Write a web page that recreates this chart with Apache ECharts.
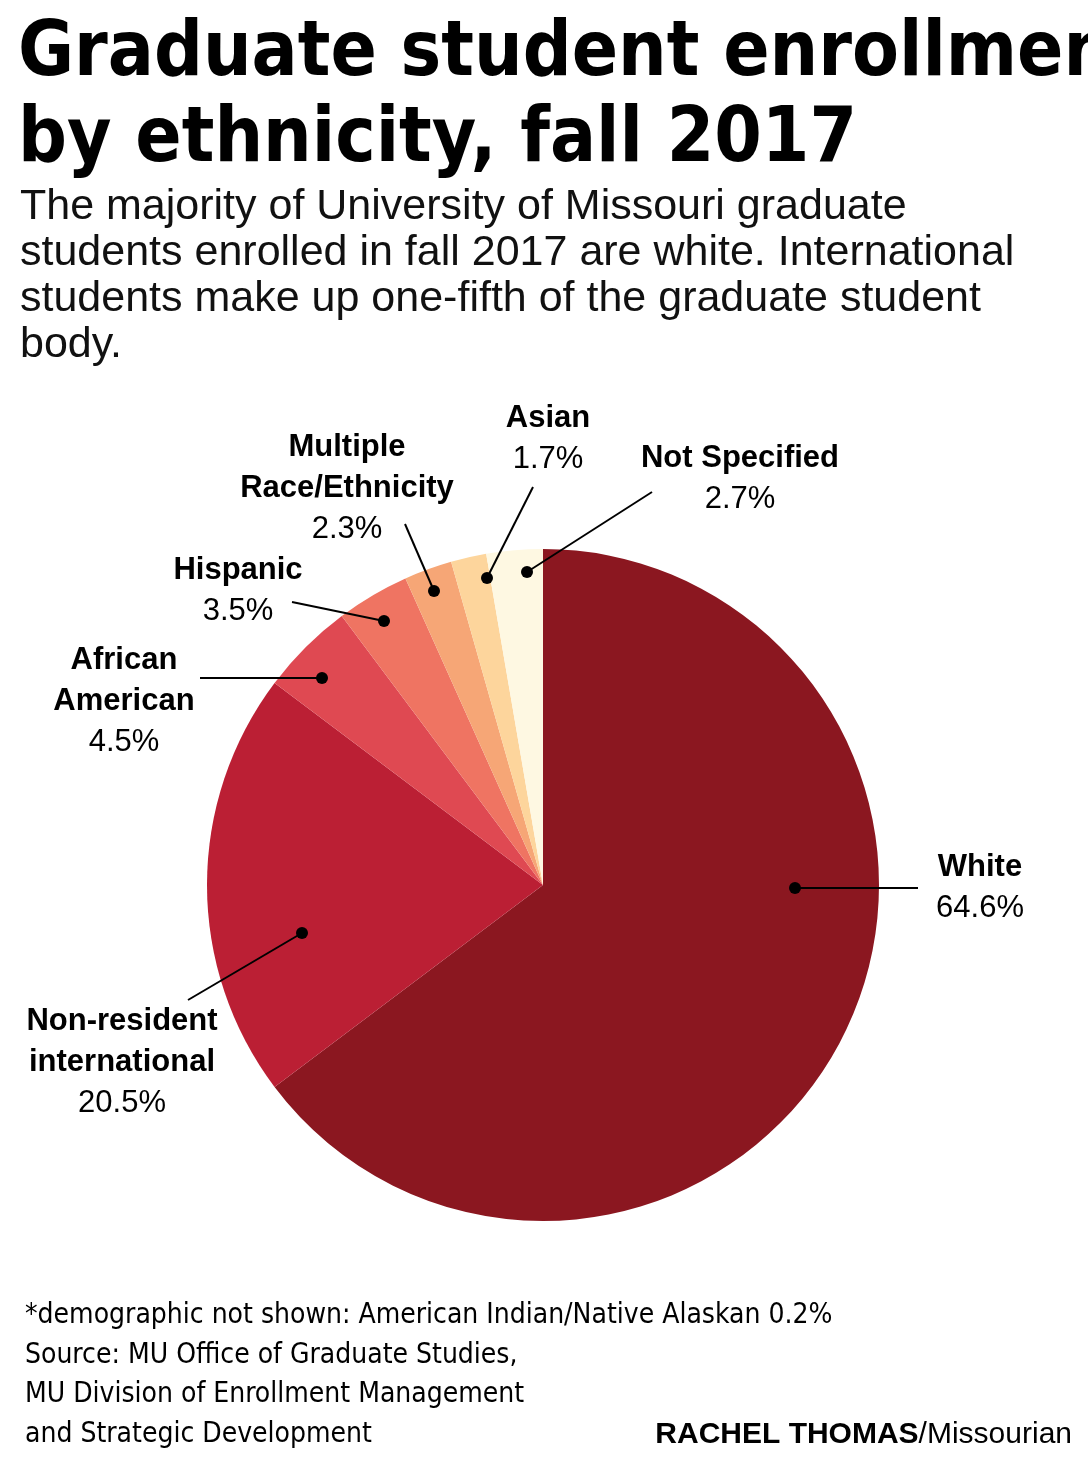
<!DOCTYPE html>
<html>
<head>
<meta charset="UTF-8">
<title>Graduate student enrollment</title>
<script src="https://cdn.jsdelivr.net/npm/echarts@6/dist/echarts.min.js"></script>
<style>body{margin:0;background:#fff}</style>
</head>
<body>
<div id="main" style="width:1088px;height:1468px;"></div>
<script>
var names = ['White', 'Non-resident international', 'African American', 'Hispanic', 'Multiple Race/Ethnicity', 'Asian', 'Not Specified'];
var values = [64.6, 20.5, 4.5, 3.5, 2.3, 1.7, 2.7];
var colors = ['#8b1720', '#bb1f34', '#df4952', '#ef7462', '#f6a676', '#fdd59c', '#fef8e2'];

// label text lines, anchor of label, leader line from slice dot to label
var labelInfo = [
    {t: ['White'], p: '64.6%', x: 980, y: 867, align: 'center', dot: [795, 888], end: [918, 888]},
    {t: ['Non-resident', 'international'], p: '20.5%', x: 122, y: 1021, align: 'center', dot: [302, 933], end: [188, 1000]},
    {t: ['African', 'American'], p: '4.5%', x: 124, y: 660, align: 'center', dot: [322, 678], end: [200, 678]},
    {t: ['Hispanic'], p: '3.5%', x: 238, y: 570, align: 'center', dot: [384, 621], end: [292, 602]},
    {t: ['Multiple', 'Race/Ethnicity'], p: '2.3%', x: 347, y: 447, align: 'center', dot: [434, 591], end: [405, 524]},
    {t: ['Asian'], p: '1.7%', x: 548, y: 418, align: 'center', dot: [487, 578], end: [533, 487]},
    {t: ['Not Specified'], p: '2.7%', x: 740, y: 458, align: 'center', dot: [527, 572], end: [652, 492]}
];

var graphics = [];
var titleFont = 'bold 76px "Liberation Sans Narrow", "DejaVu Sans Condensed", sans-serif';
graphics.push({type: 'text', left: 18, top: 12, style: {text: 'Graduate student enrollment\nby ethnicity, fall 2017', font: titleFont, lineHeight: 86, fill: '#000'}});
graphics.push({type: 'text', left: 20, top: 184, style: {text: 'The majority of University of Missouri graduate\nstudents enrolled in fall 2017 are white. International\nstudents make up one-fifth of the graduate student\nbody.', font: '43px "Liberation Sans Narrow", sans-serif', lineHeight: 46, fill: '#111'}});

labelInfo.forEach(function (l) {
    var lines = l.t.map(function (s) { return '{b|' + s + '}'; });
    lines.push('{n|' + l.p + '}');
    graphics.push({type: 'text', x: l.x, y: l.y - 20, z: 10, style: {
        text: lines.join('\n'), align: l.align, verticalAlign: 'top',
        rich: {
            b: {font: 'bold 31px "Liberation Sans", sans-serif', fill: '#000', lineHeight: 41, align: 'center'},
            n: {font: '31px "Liberation Sans", sans-serif', fill: '#000', lineHeight: 41, align: 'center'}
        }
    }});
    graphics.push({type: 'line', z: 10, shape: {x1: l.dot[0], y1: l.dot[1], x2: l.end[0], y2: l.end[1]}, style: {stroke: '#000', lineWidth: 2}});
    graphics.push({type: 'circle', z: 10, shape: {cx: l.dot[0], cy: l.dot[1], r: 6}, style: {fill: '#000'}});
});

var noteFont = '28px "Liberation Sans Narrow", "DejaVu Sans Condensed", sans-serif';
graphics.push({type: 'text', left: 25, top: 1296, style: {text: '*demographic not shown: American Indian/Native Alaskan 0.2%\nSource: MU Office of Graduate Studies,\nMU Division of Enrollment Management\nand Strategic Development', font: noteFont, lineHeight: 39.5, fill: '#000'}});
graphics.push({type: 'text', right: 16, top: 1420, style: {text: '{b|RACHEL THOMAS}{n|/Missourian}', rich: {
    b: {font: 'bold 30px "Liberation Sans Narrow", sans-serif', fill: '#000'},
    n: {font: '30px "Liberation Sans Narrow", sans-serif', fill: '#000'}
}}});

var myChart = echarts.init(document.getElementById('main'));
myChart.setOption({
    animation: false,
    graphic: graphics,
    series: [{
        type: 'pie',
        center: [543, 885],
        radius: 336,
        startAngle: 90,
        clockwise: true,
        silent: true,
        label: {show: false},
        labelLine: {show: false},
        itemStyle: {borderWidth: 0},
        data: names.map(function (n, i) {
            return {name: n, value: values[i], itemStyle: {color: colors[i]}};
        })
    }]
});
</script>
</body>
</html>
